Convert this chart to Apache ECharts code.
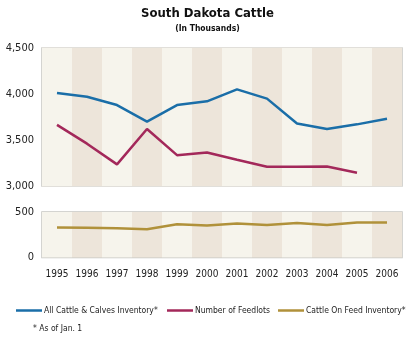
<!DOCTYPE html>
<html><head><meta charset="utf-8">
<script src="https://cdn.jsdelivr.net/npm/echarts@6/dist/echarts.min.js"></script>
<style>html,body{margin:0;padding:0;background:#fff}#c{width:415px;height:338px}</style>
</head><body><div id="c"></div>
<script>
const years = ['1995','1996','1997','1998','1999','2000','2001','2002','2003','2004','2005','2006'];
const allCattle = [4010, 3970, 3880, 3700, 3880, 3920, 4050, 3950, 3680, 3620, 3670, 3730];
const feedlots = [3665, 3460, 3235, 3620, 3335, 3365, 3285, 3210, 3210, 3212, 3145, null];
const onFeed = [330, 327, 322, 310, 365, 352, 373, 356, 380, 356, 384, 384];
const topTicks = [3000, 3500, 4000, 4500];
const bottomTicks = [0, 500];
const seriesNames = ['All Cattle & Calves Inventory*','Number of Feedlots','Cattle On Feed Inventory*'];

const FONT = '"DejaVu Sans Condensed", Roboto, sans-serif';
const chart = echarts.init(document.getElementById('c'), null, {renderer:'canvas'});
const bands = ['#f6f4ec', '#ede5da'];
function xAxisFor(i, showLabel){
  return {
    gridIndex:i, type:'category', data: years, boundaryGap: true,
    axisLine:{show:false}, axisTick:{show:false, interval:0},
    axisLabel:{show:showLabel, interval:0, margin:12, fontFamily:FONT, fontSize:10, color:'#222'},
    splitArea:{show:true, interval:0, areaStyle:{color:bands}}
  };
}
const legendLefts = [16, 167, 278];
const legends = seriesNames.map((n, i) => ({
  top:306, left:legendLefts[i], padding:0, itemWidth:26, itemHeight:2.5, icon:'rect',
  textStyle:{fontFamily:FONT, fontSize:8.5, color:'#222', padding:[0,0,0,-3]},
  data:[n]
}));
chart.setOption({
  animation:false,
  title:{
    text:'South Dakota Cattle', subtext:'(In Thousands)', left:'center', top:2, itemGap:4,
    textStyle:{fontFamily:FONT, fontSize:13, fontWeight:'bold', color:'#111'},
    subtextStyle:{fontFamily:FONT, fontSize:8.5, fontWeight:'bold', color:'#111'}
  },
  grid:[
    {left:42, top:48, width:360, height:138, show:true, borderColor:'#c6c6c2', borderWidth:1.5, backgroundColor:'transparent'},
    {left:42, top:212, width:360, height:45.5, show:true, borderColor:'#c6c6c2', borderWidth:1.5, backgroundColor:'transparent'}
  ],
  xAxis:[ xAxisFor(0,false), xAxisFor(1,true) ],
  yAxis:[
    {gridIndex:0, type:'value', min:topTicks[0], max:topTicks[topTicks.length-1], interval:500,
     axisLine:{show:false}, axisTick:{show:false},
     splitLine:{show:true, lineStyle:{color:'#e6e3dc', width:1.5}},
     axisLabel:{margin:8, fontFamily:FONT, fontSize:11, color:'#222',
       formatter:v=>topTicks.includes(v)? v.toLocaleString('en-US'):''}},
    {gridIndex:1, type:'value', min:bottomTicks[0], max:bottomTicks[1], interval:500,
     axisLine:{show:false}, axisTick:{show:false}, splitLine:{show:false},
     axisLabel:{margin:8, fontFamily:FONT, fontSize:11, color:'#222'}}
  ],
  legend:legends,
  graphic:[{type:'text', left:33, top:324, style:{text:'* As of Jan. 1', font:'8.5px "DejaVu Sans Condensed", Roboto', fill:'#222'}}],
  series:[
    {name:seriesNames[0], type:'line', xAxisIndex:0, yAxisIndex:0, data:allCattle,
     symbol:'none', lineStyle:{color:'#1a6ea8', width:2.5}, itemStyle:{color:'#1a6ea8'}},
    {name:seriesNames[1], type:'line', xAxisIndex:0, yAxisIndex:0, data:feedlots,
     symbol:'none', lineStyle:{color:'#a3285a', width:2.5}, itemStyle:{color:'#a3285a'}},
    {name:seriesNames[2], type:'line', xAxisIndex:1, yAxisIndex:1, data:onFeed,
     symbol:'none', lineStyle:{color:'#b0913a', width:2.5}, itemStyle:{color:'#b0913a'}}
  ]
});
</script></body></html>
